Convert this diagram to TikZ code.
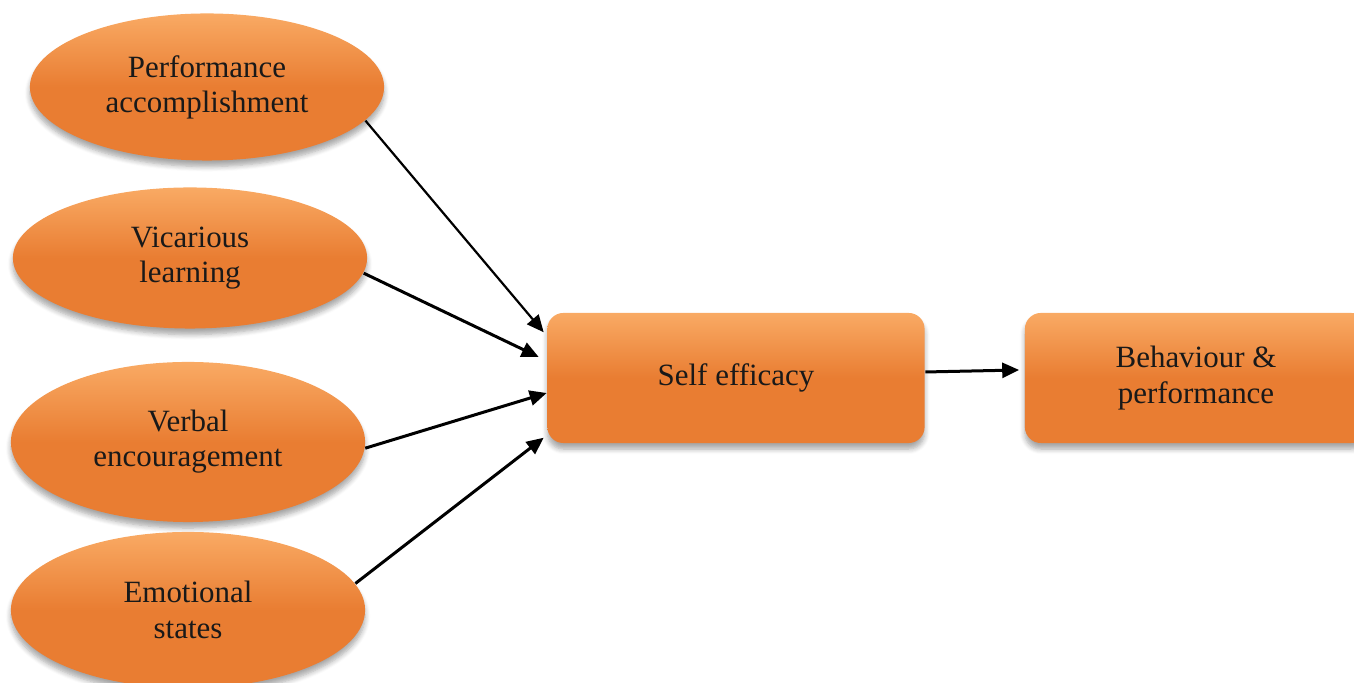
\documentclass[tikz,border=0pt]{standalone}
\usepackage{fontspec}
\setmainfont{Liberation Serif}
\usetikzlibrary{shapes.geometric,arrows.meta,shadows.blur}
\definecolor{orM}{RGB}{233,125,50}
\definecolor{orL}{RGB}{249,170,100}
\definecolor{txt}{RGB}{25,25,25}
\begin{document}
\begin{tikzpicture}[x=0.01cm,y=-0.01cm,
  softshadow/.style={blur shadow={shadow xshift=0cm,shadow yshift=-0.06cm,shadow blur steps=6,shadow opacity=35,shadow blur radius=0.05cm}},
  oval/.style={ellipse, inner sep=0pt, minimum width=3.54cm, draw=none,
    top color=orL, bottom color=orM, middle color=orM, softshadow,
    align=center, text=txt, font=\fontsize{8.8}{10}\selectfont},
  stagebox/.style={rectangle, rounded corners=0.16cm, inner sep=0pt,
    minimum width=3.77cm, minimum height=1.3cm, draw=none,
    top color=orL, bottom color=orM, middle color=orM, softshadow,
    align=center, text=txt, font=\fontsize{8.8}{10}\selectfont},
  arr/.style={-{Triangle[length=0.17cm,width=0.15cm]}, line width=0.03cm, black}]
\useasboundingbox (0,0) rectangle (1354,683);
\clip (0,0) rectangle (1354,683);

\node[oval, minimum height=1.47cm] (pa) at (207,87) {Performance\\accomplishment};
\node[oval, minimum height=1.41cm] (vl) at (190,258) {Vicarious\\learning};
\node[oval, minimum height=1.6cm] (ve) at (188,442) {Verbal\\encouragement};
\node[oval, minimum height=1.56cm] (es) at (188,610) {Emotional\\states};

\node[stagebox] (se) at (736,378) {Self efficacy};
\node[stagebox, minimum width=3.42cm] (bp) at (1196,378) {Behaviour \&\\performance};

\draw[arr, line width=0.022cm] (pa.-12) -- ([xshift=-0.03cm,yshift=-0.2cm]se.north west);
\draw[arr] (vl.-5) -- ([xshift=-0.08cm,yshift=0.21cm]se.west);
\draw[arr] (ve.-2) -- ([yshift=-0.15cm]se.west);
\draw[arr] (es.9) -- ([xshift=-0.03cm,yshift=0.06cm]se.south west);
\draw[arr] ([yshift=0.06cm]se.east) -- ([xshift=-0.05cm,yshift=0.08cm]bp.west);
\end{tikzpicture}
\end{document}
